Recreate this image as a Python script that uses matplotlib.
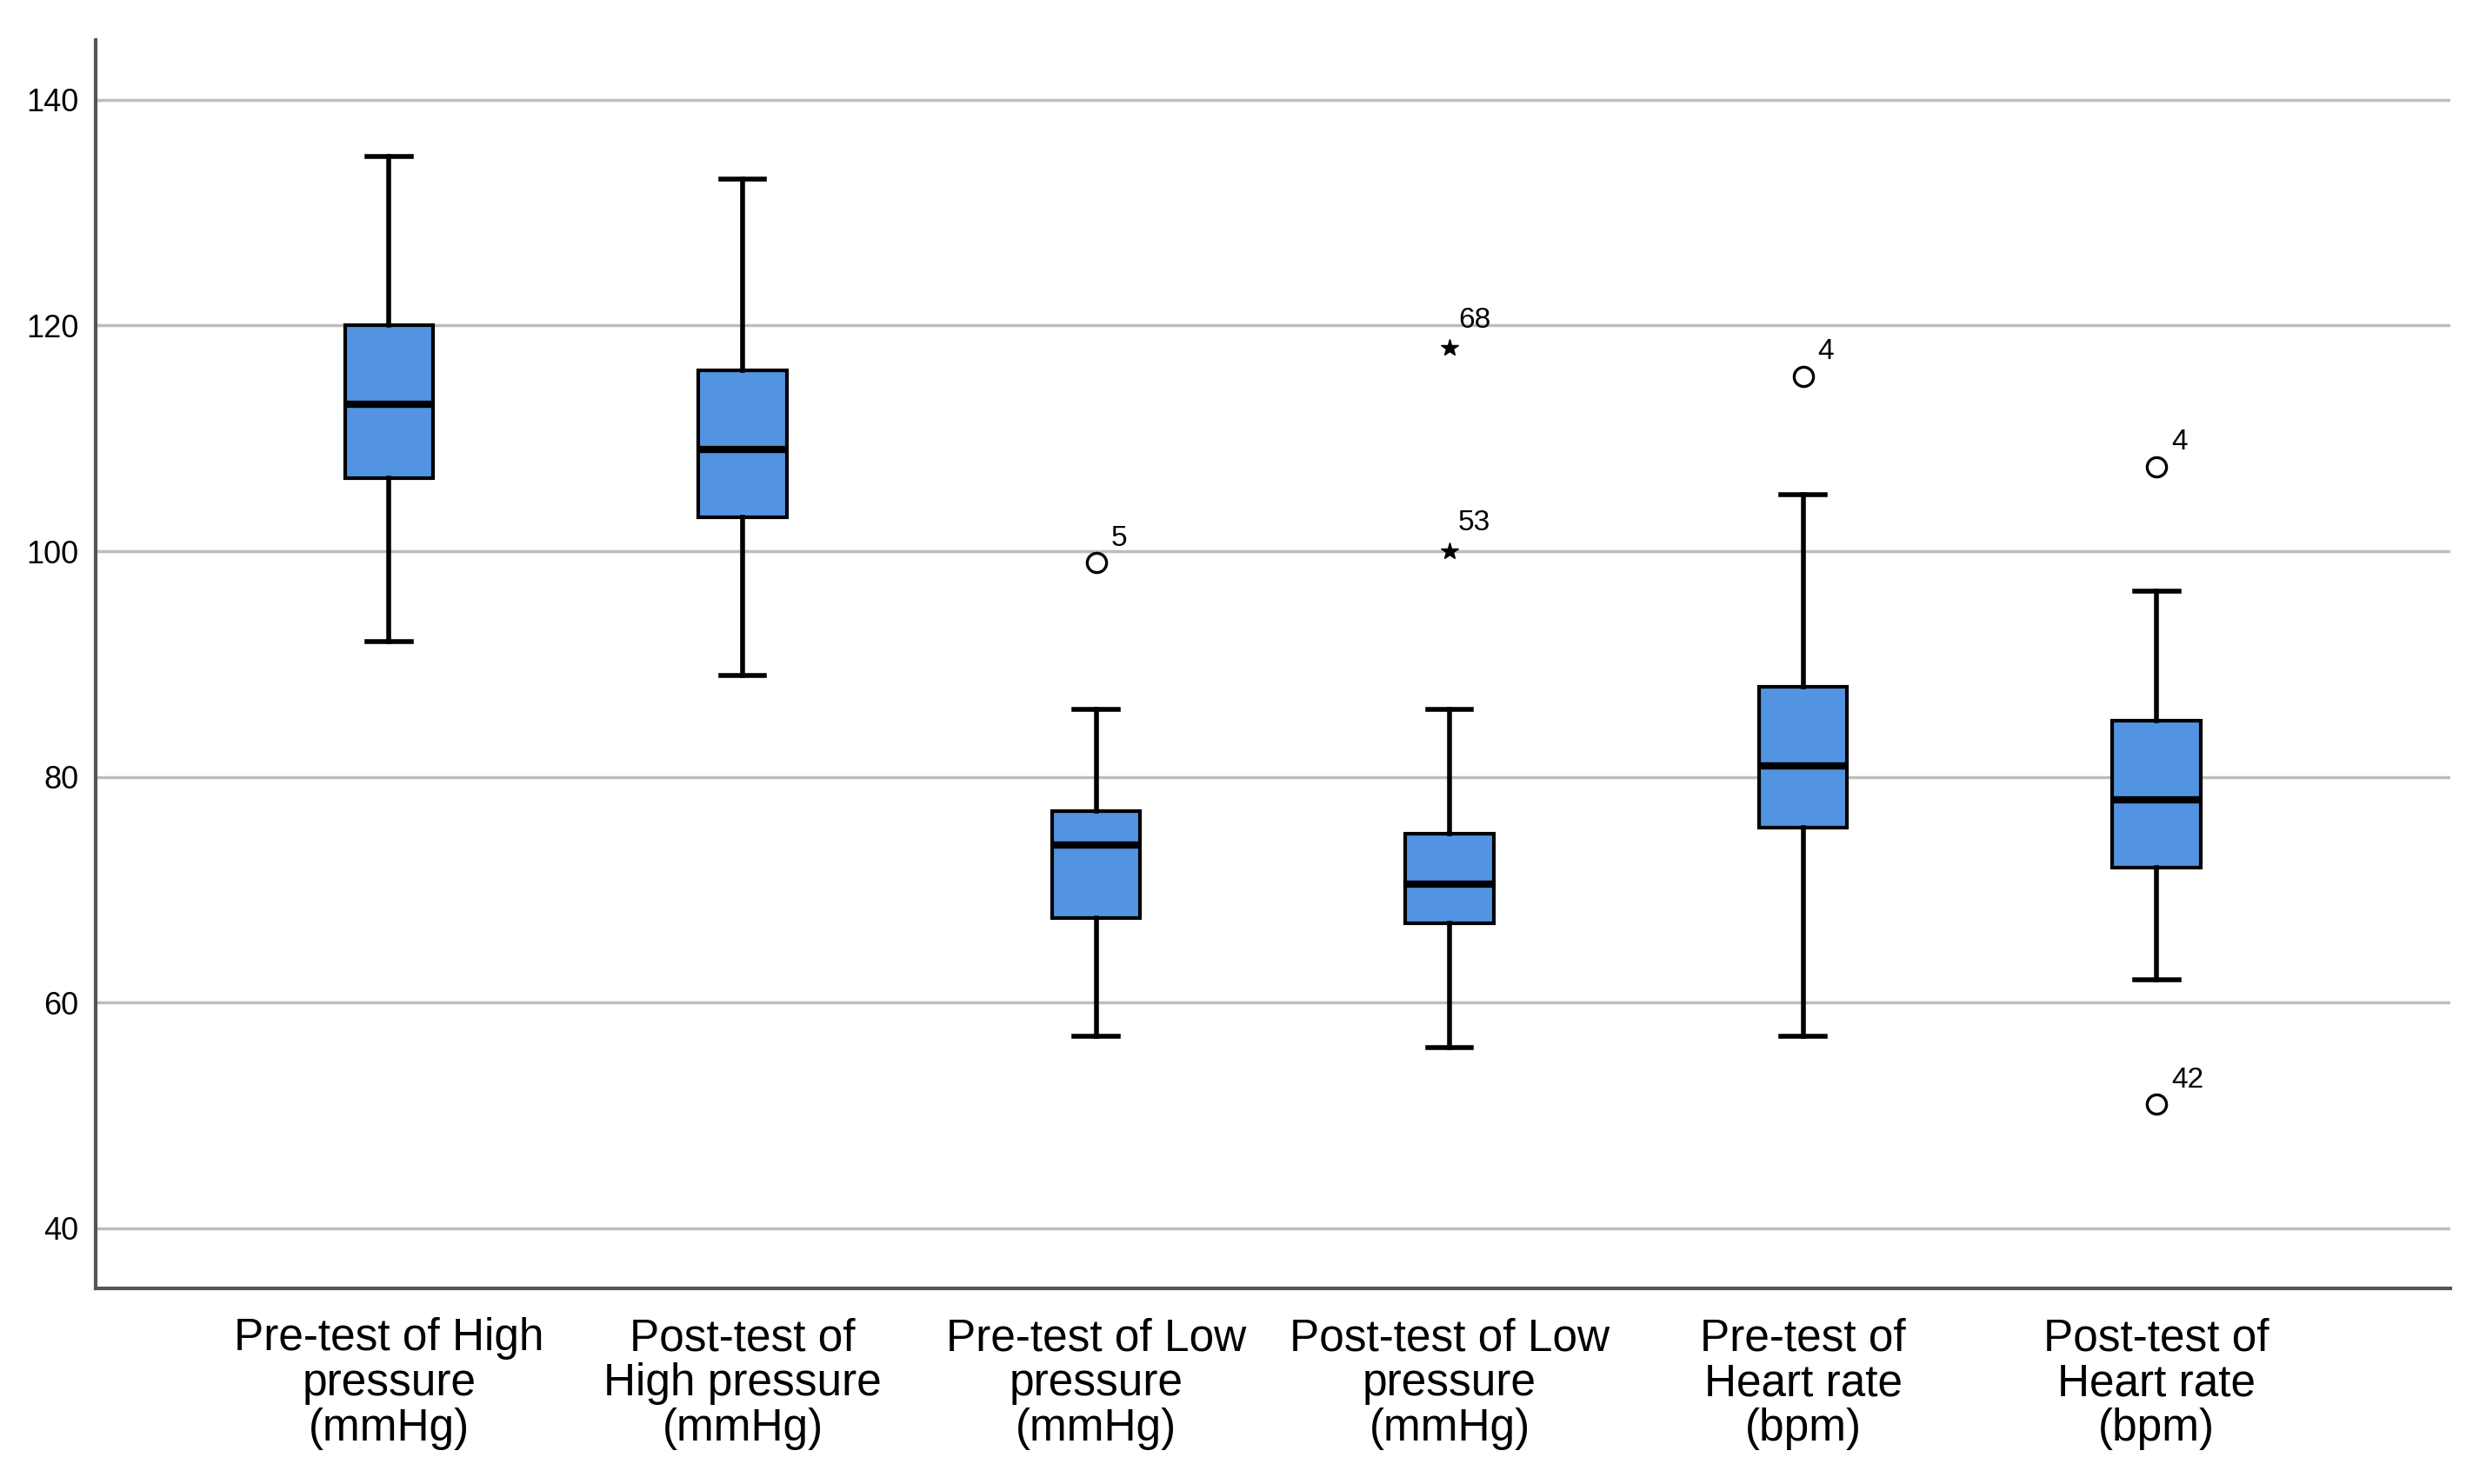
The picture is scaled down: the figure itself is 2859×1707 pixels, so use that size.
import matplotlib
matplotlib.use("Agg")
import matplotlib.pyplot as plt

# box summaries
labels = ["Pre-test of High\npressure\n(mmHg)", "Post-test of\nHigh pressure\n(mmHg)",
          "Pre-test of Low\npressure\n(mmHg)", "Post-test of Low\npressure\n(mmHg)",
          "Pre-test of\nHeart rate\n(bpm)", "Post-test of\nHeart rate\n(bpm)"]
whislo = [92, 89, 57, 56, 57, 62]
q1 = [106.5, 103, 67.5, 67, 75.5, 72]
med = [113, 109, 74, 70.5, 81, 78]
q3 = [120, 116, 77, 75, 88, 85]
whishi = [135, 133, 86, 86, 105, 96.5]

# outliers (box index, value, case id)
out_box = [2, 4, 5, 5]
out_val = [99, 115.5, 107.5, 51]
out_id = ["5", "4", "4", "42"]
# extremes
ext_box = [3, 3]
ext_val = [118, 100]
ext_id = ["68", "53"]

plt.rcParams['font.family'] = ['Liberation Sans', 'DejaVu Sans']

fig = plt.figure(figsize=(28.59, 17.07), dpi=100)
ax = fig.add_axes([0.0385, 0.132, 0.947, 0.841])

stats = []
for i in range(len(labels)):
    stats.append(dict(whislo=whislo[i], q1=q1[i], med=med[i], q3=q3[i], whishi=whishi[i],
                      fliers=[], label=labels[i]))

pos = list(range(1, len(labels) + 1))
ax.bxp(stats, positions=pos, widths=0.25, patch_artist=True, showfliers=False,
       boxprops=dict(facecolor="#5294e2", edgecolor="black", linewidth=3),
       medianprops=dict(color="black", linewidth=6),
       whiskerprops=dict(color="black", linewidth=4),
       capprops=dict(color="black", linewidth=4),
       capwidths=0.125, zorder=3)

for b, v, t in zip(out_box, out_val, out_id):
    ax.plot(pos[b], v, 'o', ms=16, mfc="white", mec="black", mew=2.4, zorder=4)
    ax.annotate(t, (pos[b], v), xytext=(12, 9), textcoords="offset points",
                fontsize=24, va="bottom", ha="left")
for b, v, t in zip(ext_box, ext_val, ext_id):
    ax.plot(pos[b], v, '*', ms=15, color="black", zorder=4)
    ax.annotate(t, (pos[b], v), xytext=(7, 12), textcoords="offset points",
                fontsize=24, va="bottom", ha="left")

ax.set_xlim(0.17, 6.83)
ax.set_ylim(34.7, 145.3)
ax.set_yticks([40, 60, 80, 100, 120, 140])
ax.yaxis.grid(True, color="#bdbdbd", linewidth=2.5, zorder=0)
ax.set_axisbelow(True)
ax.tick_params(axis="y", length=0, pad=14, labelsize=26)
ax.tick_params(axis="x", length=0, pad=24, labelsize=37)
for lab in ax.get_xticklabels():
    lab.set_linespacing(1.08)
for s in ["top", "right"]:
    ax.spines[s].set_visible(False)
for s in ["left", "bottom"]:
    ax.spines[s].set_color("#555555")
    ax.spines[s].set_linewidth(3)

fig.savefig("out.png", dpi=100, facecolor="white")
